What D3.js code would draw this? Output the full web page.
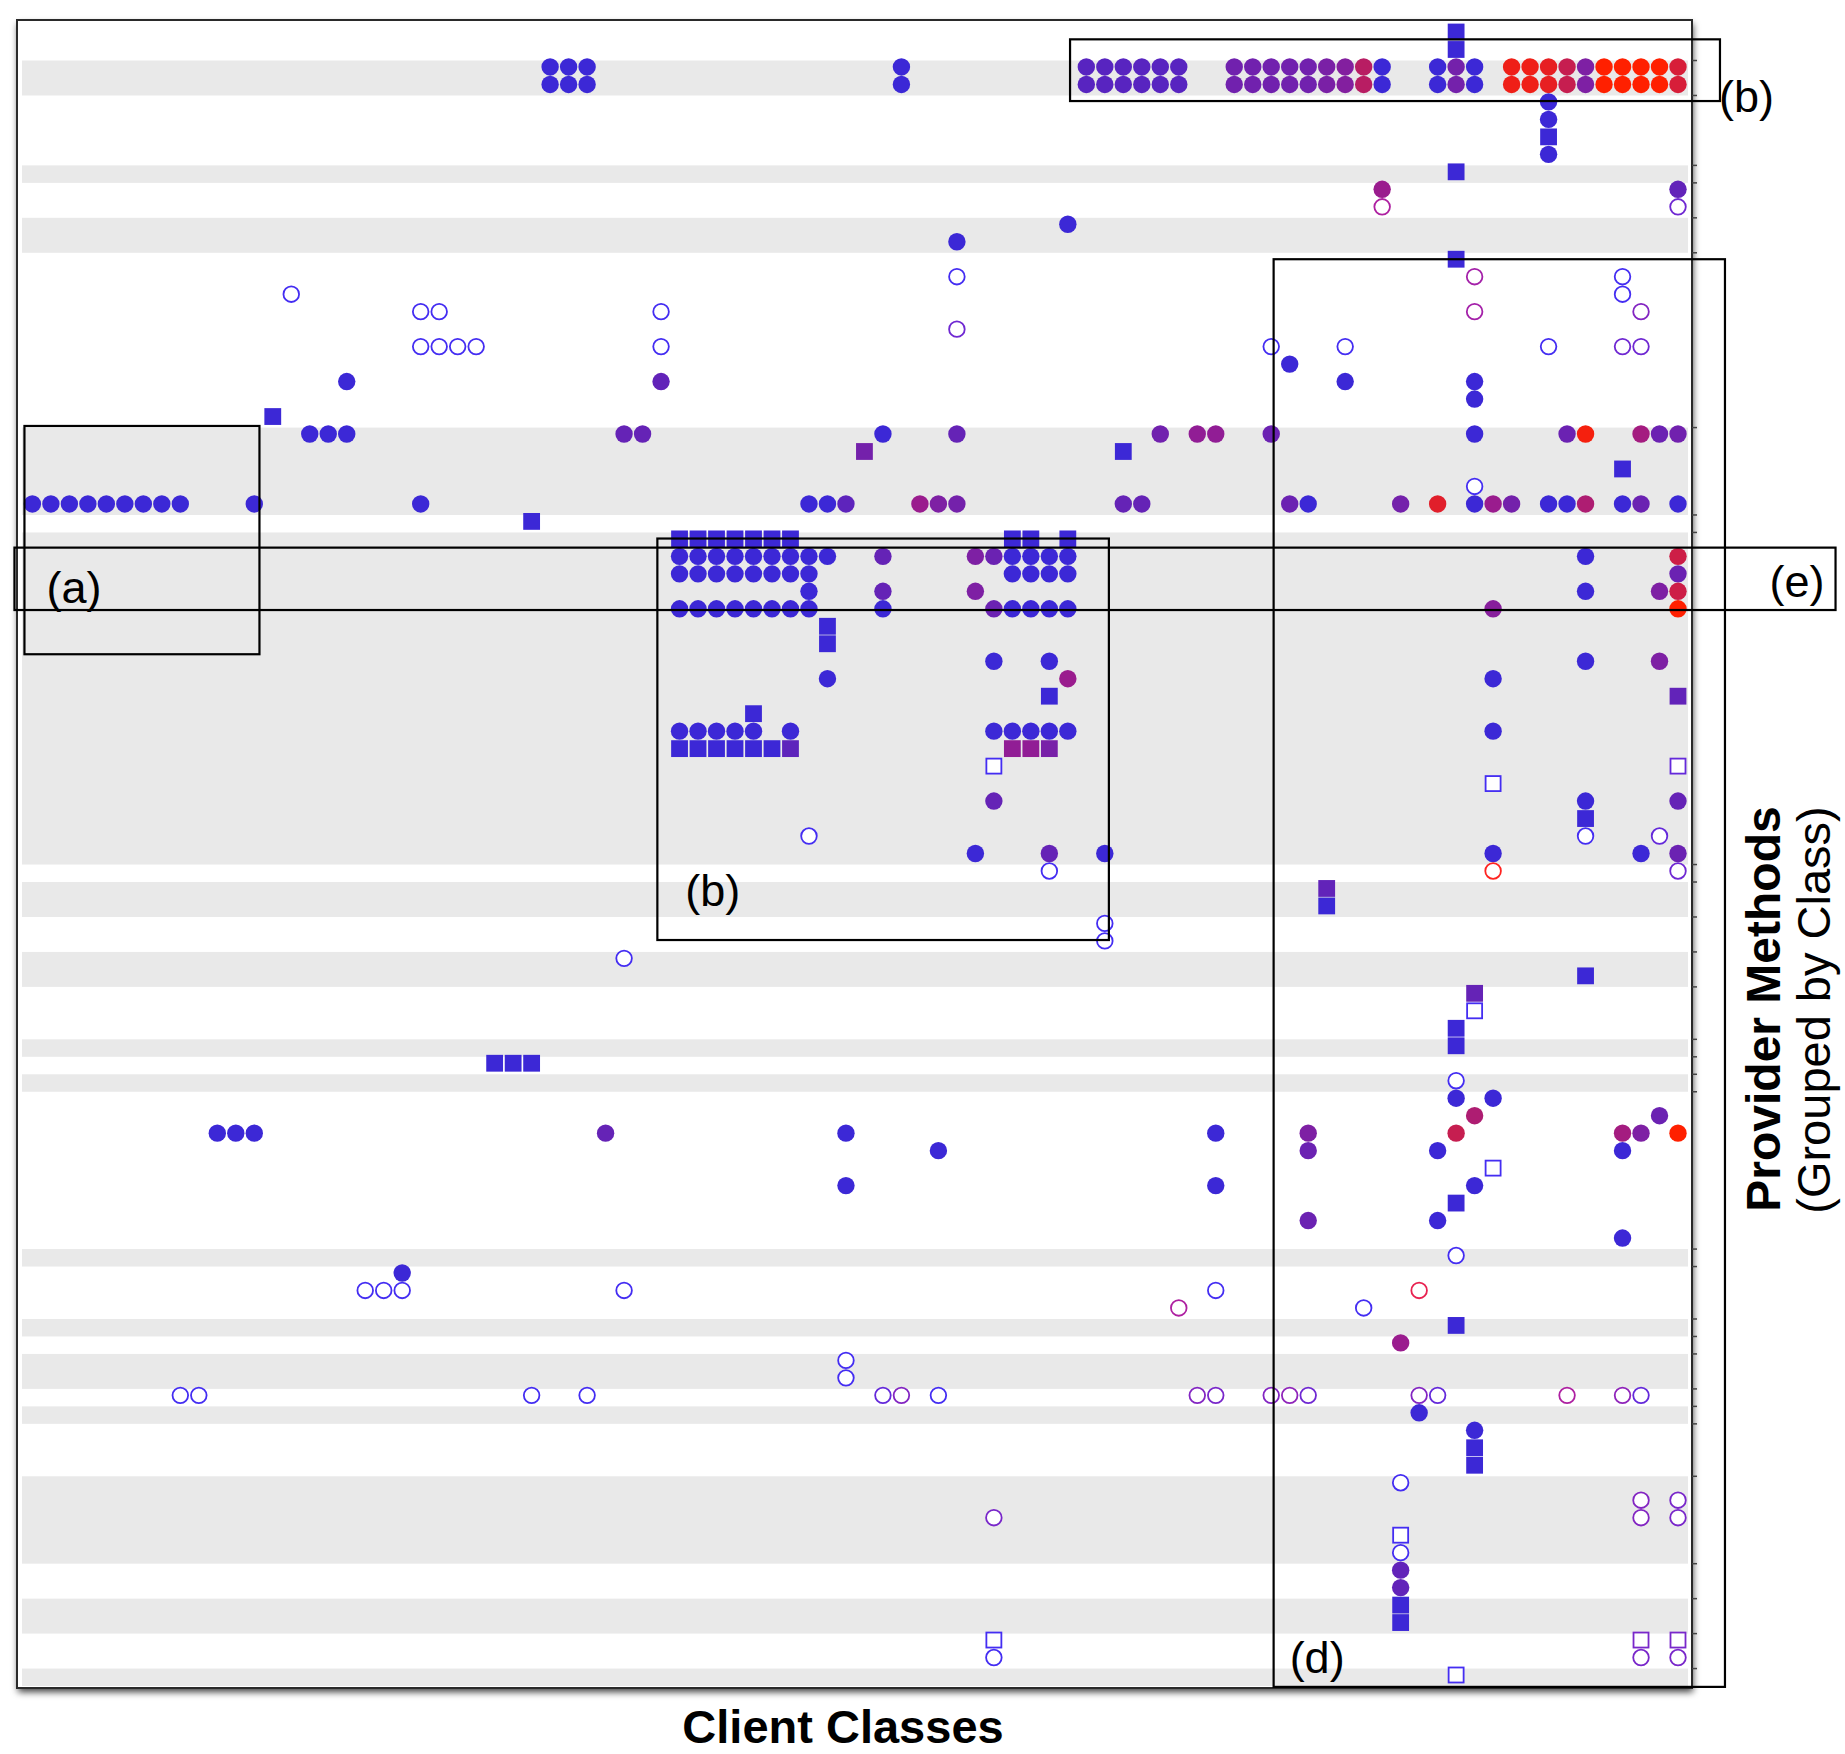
<!DOCTYPE html>
<html lang="en">
<head>
	<meta charset="UTF-8">
	<title>Provider Methods by Client Classes</title>
	<script src="https://cdn.jsdelivr.net/npm/d3@7/dist/d3.min.js"></script>
	<style>
		*{
			margin: 0px;
			box-sizing: border-box;
		}
		html,body{
			width: 1845px;
			height: 1754px;
			overflow: hidden;
			background: #fff;
		}
		text{
			font-family: "Liberation Sans", Arial, Helvetica, sans-serif;
		}
	</style>
</head>
<body>
	<svg id="svg"></svg>
	<script>
		// matrix size: client classes (columns) x provider methods (rows)
		var colCount = 90,
			rowCount = 95;

		// provider classes: first and last method row, alternately white / grey
		var rowGroups = [[0,1],[2,3],[4,7],[8,8],[9,10],[11,12],[13,22],[23,27],[28,28],[29,47],
			[48,48],[49,50],[51,52],[53,54],[55,57],[58,58],[59,59],[60,60],[61,69],[70,70],
			[71,73],[74,74],[75,75],[76,77],[78,78],[79,79],[80,82],[83,87],[88,89],[90,91],
			[92,93],[94,94]];

		// [column, row, colour value 0 = blue ... 1 = red]
		var filledCircles = [
			[28,2,0],[29,2,0],[30,2,0],[47,2,0],
			[57,2,.15],[58,2,.15],[59,2,.15],[60,2,.15],[61,2,.15],[62,2,.15],
			[65,2,.28],[66,2,.28],[67,2,.28],[68,2,.28],[69,2,.28],[70,2,.33],[71,2,.38],[72,2,.65],[73,2,0],
			[76,2,0],[77,2,.3],[78,2,0],
			[80,2,.92],[81,2,.92],[82,2,.88],[83,2,.72],[84,2,.35],[85,2,1],[86,2,1],[87,2,1],[88,2,1],[89,2,.8],
			[28,3,0],[29,3,0],[30,3,0],[47,3,0],
			[57,3,.15],[58,3,.15],[59,3,.15],[60,3,.15],[61,3,.15],[62,3,.15],
			[65,3,.28],[66,3,.28],[67,3,.28],[68,3,.28],[69,3,.28],[70,3,.33],[71,3,.38],[72,3,.65],[73,3,0],
			[76,3,0],[77,3,.3],[78,3,0],
			[80,3,.92],[81,3,.92],[82,3,.88],[83,3,.72],[84,3,.35],[85,3,1],[86,3,1],[87,3,1],[88,3,1],[89,3,.8],
			[82,4,0],[82,5,0],[82,7,0],
			[73,9,.5],[89,9,.2],
			[56,11,0],[50,12,0],[68,19,0],
			[17,20,0],[34,20,.2],[71,20,0],[78,20,0],[78,21,0],
			[15,23,0],[16,23,0],[17,23,0],[32,23,.22],[33,23,.22],[46,23,0],[50,23,.22],[61,23,.28],
			[63,23,.45],[64,23,.45],[67,23,.25],[78,23,0],[83,23,.25],[84,23,.95],[87,23,.55],[88,23,.25],[89,23,.28],
			[0,27,0],[1,27,0],[2,27,0],[3,27,0],[4,27,0],[5,27,0],[6,27,0],[7,27,0],[8,27,0],
			[12,27,0],[21,27,0],[42,27,0],[43,27,0],[44,27,.18],[48,27,.5],[49,27,.35],[50,27,.3],
			[59,27,.22],[60,27,.22],[68,27,.25],[69,27,0],[74,27,.3],[76,27,.85],[78,27,0],[79,27,.5],
			[80,27,.3],[82,27,0],[83,27,0],[84,27,.6],[86,27,0],[87,27,.25],[89,27,0],
			[35,30,0],[36,30,0],[37,30,0],[38,30,0],[39,30,0],[40,30,0],[41,30,0],[42,30,0],[43,30,0],
			[46,30,.22],[51,30,.35],[52,30,.25],[53,30,0],[54,30,0],[55,30,0],[56,30,0],[84,30,0],[89,30,.75],
			[35,31,0],[36,31,0],[37,31,0],[38,31,0],[39,31,0],[40,31,0],[41,31,0],[42,31,0],
			[53,31,0],[54,31,0],[55,31,0],[56,31,0],[89,31,.25],
			[42,32,0],[46,32,.22],[51,32,.35],[84,32,0],[88,32,.35],[89,32,.75],
			[35,33,0],[36,33,0],[37,33,0],[38,33,0],[39,33,0],[40,33,0],[41,33,0],[42,33,0],
			[46,33,0],[52,33,.25],[53,33,0],[54,33,0],[55,33,0],[56,33,0],[79,33,.4],[89,33,1],
			[52,36,0],[55,36,0],[84,36,0],[88,36,.35],
			[43,37,0],[56,37,.5],[79,37,0],
			[35,40,0],[36,40,0],[37,40,0],[38,40,0],[39,40,0],[41,40,0],
			[52,40,0],[53,40,0],[54,40,0],[55,40,0],[56,40,0],[79,40,0],
			[52,44,.22],[84,44,0],[89,44,.22],
			[51,47,0],[55,47,.22],[58,47,0],[79,47,0],[87,47,0],[89,47,.25],
			[77,61,0],[79,61,0],
			[78,62,.6],[88,62,.25],
			[10,63,0],[11,63,0],[12,63,0],[31,63,.22],[44,63,0],[64,63,0],[69,63,.35],[77,63,.72],
			[86,63,.55],[87,63,.35],[89,63,1],
			[49,64,0],[69,64,.25],[76,64,0],[86,64,0],
			[44,66,0],[64,66,0],[78,66,0],
			[69,68,.25],[76,68,0],[86,69,0],
			[20,71,0],[74,75,.5],[75,79,0],[78,80,0],
			[74,88,.2],[74,89,.2]
		];

		var hollowCircles = [
			[73,10,.5],[89,10,.2],
			[50,14,0],[78,14,.45],[86,14,0],
			[14,15,0],[86,15,0],
			[21,16,0],[22,16,0],[34,16,0],[78,16,.45],[87,16,.3],
			[50,17,.2],
			[21,18,0],[22,18,0],[23,18,0],[24,18,0],[34,18,0],[67,18,0],[71,18,0],[82,18,0],[86,18,.2],[87,18,.2],
			[78,26,0],
			[42,46,0],[84,46,0],[88,46,.15],
			[55,48,0],[79,48,.9],[89,48,.2],
			[58,51,0],[58,52,0],[32,53,0],
			[77,60,0],[77,70,0],
			[18,72,0],[19,72,0],[20,72,0],[32,72,0],[64,72,0],[75,72,.75],
			[62,73,.5],[72,73,0],
			[44,76,0],[44,77,0],
			[8,78,0],[9,78,0],[27,78,0],[30,78,0],[46,78,.15],[47,78,.3],[49,78,0],[63,78,.3],[64,78,.25],
			[67,78,.3],[68,78,.35],[69,78,.2],[75,78,.3],[76,78,.15],[83,78,.5],[86,78,.35],[87,78,.15],
			[74,83,0],
			[87,84,.3],[89,84,.25],
			[52,85,.25],[87,85,.3],[89,85,.25],
			[74,87,0],
			[52,93,0],[87,93,.25],[89,93,.25]
		];

		var filledSquares = [
			[77,0,0],[77,1,0],[82,6,0],[77,8,0],[77,13,0],[13,22,0],
			[45,24,.3],[59,24,0],[86,25,0],[27,28,0],
			[35,29,0],[36,29,0],[37,29,0],[38,29,0],[39,29,0],[40,29,0],[41,29,0],[53,29,0],[54,29,0],[56,29,0],
			[43,34,0],[43,35,0],
			[55,38,0],[89,38,.2],[39,39,0],
			[35,41,0],[36,41,0],[37,41,0],[38,41,0],[39,41,0],[40,41,0],[41,41,.18],[53,41,.45],[54,41,.45],[55,41,.32],
			[84,45,0],[70,49,.2],[70,50,0],[84,54,0],[78,55,.22],
			[77,57,0],[77,58,0],
			[25,59,0],[26,59,0],[27,59,0],
			[77,67,0],[77,74,0],[78,81,0],[78,82,0],[74,90,0],[74,91,0]
		];

		var hollowSquares = [
			[52,42,0],[89,42,.15],[79,43,0],[78,56,0],[79,65,0],[74,86,0],
			[52,92,0],[87,92,.25],[89,92,.25],[77,94,0]
		];

		// highlighted regions, in column / row units
		var regions = [
			{label: "(a)", c0: -0.43, c1: 12.28, r0: 22.54, r1: 35.6, place: "inLow"},
			{label: "(b)", c0: 56.12, c1: 91.27, r0: 0.42, r1: 3.95, place: "outRight"},
			{label: "(e)", c0: -0.97, c1: 97.52, r0: 29.5, r1: 33.07, place: "inRight"},
			{label: "(b)", c0: 33.8, c1: 58.22, r0: 28.98, r1: 51.95, place: "inBottom"},
			{label: "(d)", c0: 67.13, c1: 91.54, r0: 13.0, r1: 94.68, place: "inCorner"}
		];

		var svg = d3.select("#svg").attr("width", 1845).attr("height", 1754),
			frame = {left: 17, top: 20, right: 1692, bottom: 1688},
			x = d3.scaleLinear().domain([0, colCount - 1]).range([32.4, 1678]),
			y = d3.scaleLinear().domain([0, rowCount - 1]).range([32, 1675]),
			bandShift = 2.3,
			r = 8.7,
			side = 16.8,
			color = d3.scaleLinear().domain([0, .5, 1]).range(["#3c28d6", "#9a1c8e", "#ff2000"]);

		var filter = svg.append("defs").append("filter")
			.attr("id", "shadow")
			.attr("x", "-3%").attr("y", "-3%")
			.attr("width", "106%").attr("height", "106%");
		filter.append("feDropShadow")
			.attr("dx", 1).attr("dy", 4)
			.attr("stdDeviation", 3.5)
			.attr("flood-color", "#000")
			.attr("flood-opacity", 0.75);

		// window background with its shadow
		svg.append("rect")
			.attr("x", frame.left).attr("y", frame.top)
			.attr("width", frame.right - frame.left)
			.attr("height", frame.bottom - frame.top)
			.attr("fill", "#fff")
			.attr("filter", "url(#shadow)");

		// grey bands for every other provider class
		svg.append("g")
			.selectAll("rect")
			.data(rowGroups.filter(function(d, i) { return i % 2 == 1; }))
			.enter().append("rect")
			.attr("x", 22)
			.attr("width", 1688 - 22)
			.attr("y", function(d) { return y(d[0] - .5) + bandShift; })
			.attr("height", function(d) { return y(d[1] + .5) - y(d[0] - .5); })
			.attr("fill", "#e9e9e9");

		var marks = svg.append("g");

		marks.selectAll(".fc")
			.data(filledCircles)
			.enter().append("circle")
			.attr("class", "fc")
			.attr("cx", function(d) { return x(d[0]); })
			.attr("cy", function(d) { return y(d[1]); })
			.attr("r", r)
			.attr("fill", function(d) { return color(d[2]); });

		marks.selectAll(".hc")
			.data(hollowCircles)
			.enter().append("circle")
			.attr("class", "hc")
			.attr("cx", function(d) { return x(d[0]); })
			.attr("cy", function(d) { return y(d[1]); })
			.attr("r", r - 0.9)
			.attr("fill", "#fff")
			.attr("stroke-width", 1.8)
			.attr("stroke", function(d) { return d3.color(color(d[2])).brighter(0.35); });

		marks.selectAll(".fs")
			.data(filledSquares)
			.enter().append("rect")
			.attr("class", "fs")
			.attr("x", function(d) { return x(d[0]) - side / 2; })
			.attr("y", function(d) { return y(d[1]) - side / 2; })
			.attr("width", side)
			.attr("height", side)
			.attr("fill", function(d) { return color(d[2]); });

		marks.selectAll(".hs")
			.data(hollowSquares)
			.enter().append("rect")
			.attr("class", "hs")
			.attr("x", function(d) { return x(d[0]) - side / 2 + 0.9; })
			.attr("y", function(d) { return y(d[1]) - side / 2 + 0.9; })
			.attr("width", side - 1.8)
			.attr("height", side - 1.8)
			.attr("fill", "#fff")
			.attr("stroke-width", 1.8)
			.attr("stroke", function(d) { return d3.color(color(d[2])).brighter(0.35); });

		// window border and the little class ticks on its right edge
		svg.append("rect")
			.attr("x", frame.left).attr("y", frame.top)
			.attr("width", frame.right - frame.left)
			.attr("height", frame.bottom - frame.top)
			.attr("fill", "none")
			.attr("stroke", "#2a2a2a")
			.attr("stroke-width", 2);

		svg.append("g")
			.selectAll("line")
			.data(rowGroups.slice(0, -1))
			.enter().append("line")
			.attr("x1", frame.right).attr("x2", frame.right + 5)
			.attr("y1", function(d) { return y(d[1] + .5) + bandShift; })
			.attr("y2", function(d) { return y(d[1] + .5) + bandShift; })
			.attr("stroke", "#444")
			.attr("stroke-width", 1.5);

		// annotation boxes
		var boxes = svg.append("g")
			.selectAll("g")
			.data(regions)
			.enter().append("g");

		boxes.append("rect")
			.attr("x", function(d) { return x(d.c0); })
			.attr("y", function(d) { return y(d.r0); })
			.attr("width", function(d) { return x(d.c1) - x(d.c0); })
			.attr("height", function(d) { return y(d.r1) - y(d.r0); })
			.attr("fill", "none")
			.attr("stroke", "#000")
			.attr("stroke-width", 2.2);

		boxes.append("text")
			.attr("x", function(d) {
				if (d.place == "outRight") return x(d.c1) - 1;
				if (d.place == "inRight") return x(d.c1) - 66;
				if (d.place == "inBottom") return x(d.c0) + 28;
				if (d.place == "inCorner") return x(d.c0) + 16;
				return x(d.c0) + 22;
			})
			.attr("y", function(d) {
				if (d.place == "outRight") return y(d.r1) + 11;
				if (d.place == "inRight") return y(d.r1) - 13;
				if (d.place == "inBottom") return y(d.r1) - 34;
				if (d.place == "inCorner") return y(d.r1) - 14;
				return y(d.r1) - 51;
			})
			.attr("font-size", 45)
			.attr("fill", "#000")
			.text(function(d) { return d.label; });

		// axis titles
		svg.append("text")
			.attr("x", 843)
			.attr("y", 1743)
			.attr("text-anchor", "middle")
			.attr("font-size", 47)
			.attr("font-weight", "bold")
			.text("Client Classes");

		svg.append("text")
			.attr("transform", "translate(1780,1009) rotate(-90)")
			.attr("text-anchor", "middle")
			.attr("font-size", 48)
			.attr("font-weight", "bold")
			.text("Provider Methods");

		svg.append("text")
			.attr("transform", "translate(1830,1010) rotate(-90)")
			.attr("text-anchor", "middle")
			.attr("font-size", 47)
			.text("(Grouped by Class)");
	</script>
</body>
</html>
